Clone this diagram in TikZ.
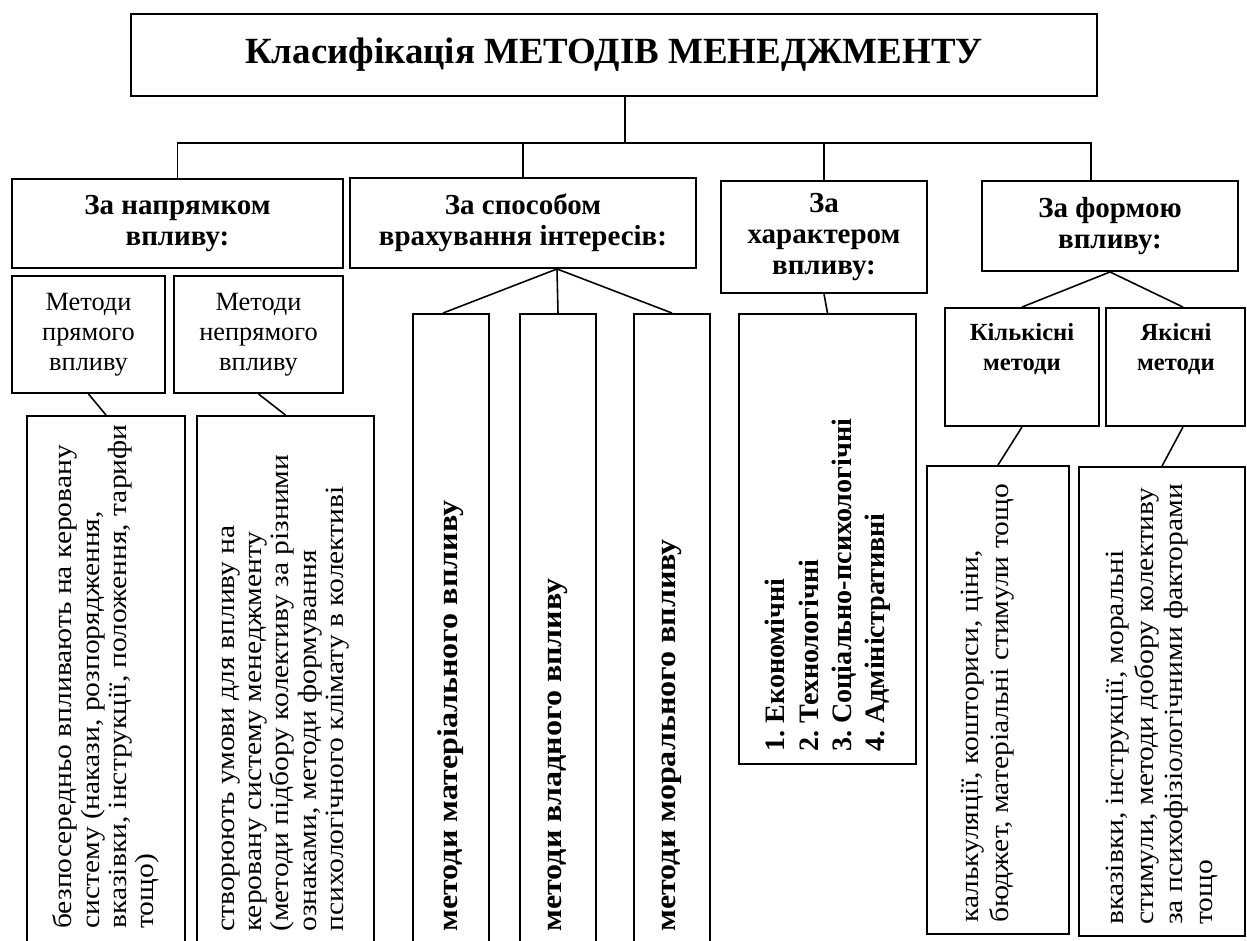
\documentclass[tikz,border=0pt]{standalone}
\usepackage{fontspec}
\setmainfont{Liberation Serif}
\newfontfamily\vertserif[FakeStretch=1.12]{Liberation Serif}
\frenchspacing

\tikzset{
  box/.style={draw, line width=1.1pt, inner sep=0pt},
  wh/.style 2 args={minimum width=#1*0.02cm, minimum height=#2*0.02cm},
  hdr/.style={box, align=center, font=\fontsize{16.5}{17.5}\selectfont\bfseries},
  meth/.style={box, align=center, font=\fontsize{15}{17}\selectfont},
  link/.style={line width=0.9pt},
  vtxt/.style={rotate=90, anchor=west, align=left, inner sep=0pt,
    font=\vertserif\fontsize{15}{15.5}\selectfont},
  vwide/.style={vtxt, font=\vertserif\fontsize{15}{17}\selectfont},
  vbold/.style={vtxt, font=\vertserif\fontsize{16.3}{19}\selectfont\bfseries},
  vlist/.style={vtxt, font=\fontsize{16}{19}\selectfont\bfseries},
  qtxt/.style={align=center, inner sep=0pt, anchor=north,
    font=\fontsize{14}{17}\selectfont\bfseries}
}

\begin{document}
\begin{tikzpicture}[x=0.02cm, y=-0.02cm]
  \clip (0,0) rectangle (1247,940);
  \fill[white] (0,0) rectangle (1247,940);

  % title and the four groups
  \node[box, wh={966}{82}, font=\fontsize{21}{25}\selectfont\bfseries] (title) at (614,55) {Класифікація МЕТОДІВ МЕНЕДЖМЕНТУ};
  \node[hdr, wh={331}{89}] (h1) at (177.5,223.5) {За напрямком\\впливу:};
  \node[hdr, wh={346}{90}] (h2) at (523,223) {За способом\\врахування інтересів:};
  \node[hdr, wh={206}{112}] (h3) at (824,237) {За\\характером\\впливу:};
  \node[hdr, wh={256}{90}] (h4) at (1110,226) {За формою\\впливу:};

  \coordinate (bus) at (625,143);
  \coordinate (j4) at ([xshift=-0.38cm]h4.north);
  \draw[link] (title.south -| bus) -- (bus);
  \draw[link] (h1.north) |- (j4 |- bus) -- (j4);
  \draw[link] (h2.north) -- (h2.north |- bus);
  \draw[link] (h3.north) -- (h3.north |- bus);

  % by direction
  \node[meth, wh={153}{117}] (m1) at (88.5,334.5) {Методи\\прямого\\впливу};
  \node[meth, wh={169}{117}] (m2) at (258.5,334.5) {Методи\\непрямого\\впливу};
  \node[box, wh={158}{534}] (d1) at (106,683) {};
  \node[box, wh={177}{534}] (d2) at (285.5,683) {};
  \node[vtxt] (d1t) at (106,929) {безпосередньо впливають на керовану\\систему (накази, розпорядження,\\вказівки, інструкції, положення, тарифи\\тощо)};
  \node[vtxt] (d2t) at (285.5,932) {створюють умови для впливу на\\керовану систему менеджменту\\(методи підбору колективу за різними\\ознаками, методи формування\\психологічного клімату в колективі};
  \draw[link] (m1.south) -- (d1.north);
  \draw[link] (m2.south) -- (d2.north);

  % by interests
  \node[box, wh={76}{636}] (v1) at (451,632) {};
  \node[box, wh={76}{636}] (v2) at (558,632) {};
  \node[box, wh={76}{636}] (v3) at (672,632) {};
  \node[vbold] (v1t) at (451,932) {методи матеріального впливу};
  \node[vbold] (v2t) at (558,932) {методи владного впливу};
  \node[vbold] (v3t) at (672,932) {методи морального впливу};
  \coordinate (fork) at ([xshift=0.68cm]h2.south);
  \draw[link] ([xshift=-0.16cm]v1.north) -- (fork) -- (v3.north);
  \draw[link] (fork) -- (v2.north);

  % by character
  \node[box, wh={177}{450}] (e) at (827.5,539) {};
  \node[vlist] (et) at (828,752) {1. Економічні\\2. Технологічні\\3. Соціально-психологічні\\4. Адміністративні};
  \draw[link] (h3.south) -- (e.north);

  % by form
  \node[box, wh={154}{118}] (q1) at (1022,367) {};
  \node[box, wh={139}{118}] (q2) at (1175.5,367) {};
  \node[qtxt] (q1t) at (1022,323) {Кількісні\\методи};
  \node[qtxt] (q2t) at (1176,323) {Якісні\\методи};
  \node[box, wh={142}{468}] (c1) at (998,700) {};
  \node[box, wh={166}{469}] (c2) at (1162,701.5) {};
  \node[vwide] (c1t) at (988,923) {калькуляції, кошториси, ціни,\\бюджет, матеріальні стимули тощо};
  \node[vwide] (c2t) at (1162,925) {вказівки, інструкції, моральні\\стимули, методи добору колективу\\за психофізіологічними факторами\\тощо};
  \draw[link] (q1.north) -- (h4.south) -- ([xshift=0.15cm]q2.north);
  \draw[link] (q1.south) -- (c1.north);
  \draw[link] ([xshift=0.15cm]q2.south) -- (c2.north);
\end{tikzpicture}
\end{document}
